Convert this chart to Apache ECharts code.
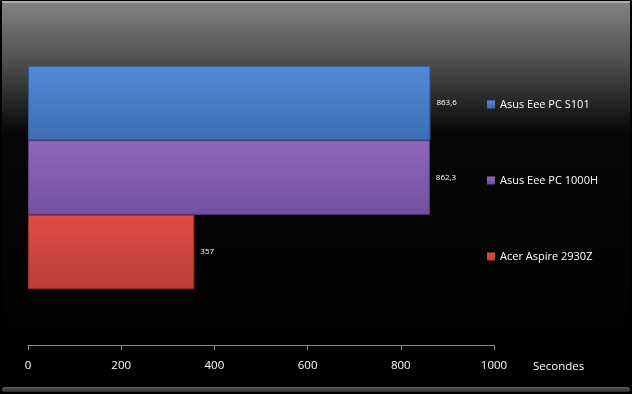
<!DOCTYPE html>
<html>
<head>
<meta charset="utf-8">
<script src="https://cdn.jsdelivr.net/npm/echarts@6/dist/echarts.min.js"></script>
<style>html,body{margin:0;padding:0;background:#000;}#c{width:632px;height:394px;}</style>
</head>
<body>
<div id="c"></div>
<script>
var categories = [''];
var seriesNames = ['Asus Eee PC S101', 'Asus Eee PC 1000H', 'Acer Aspire 2930Z'];
var seriesValues = [863.6, 862.3, 357];
var tickLabels = [0, 200, 400, 600, 800, 1000];
var axisName = 'Secondes';

var colors = [
  ['#5289d8', '#3c6db3', '#2f5a96'],
  ['#8f66bf', '#71519e', '#5c4083'],
  ['#e04c44', '#b83e38', '#97312c']
];

var FONT = 'Open Sans';
var chart = echarts.init(document.getElementById('c'));
var series = [];
for (var i = 0; i < seriesNames.length; i++) {
  series.push({
    name: seriesNames[i],
    type: 'bar',
    barGap: 0,
    barCategoryGap: '33.3%',
    data: [seriesValues[i]],
    itemStyle: {
      color: new echarts.graphic.LinearGradient(0, 0, 0, 1, [
        {offset: 0, color: colors[i][0]},
        {offset: 1, color: colors[i][1]}
      ]),
      borderColor: colors[i][2],
      borderWidth: 1
    },
    label: {
      show: true,
      position: 'right',
      distance: 6,
      color: '#fff',
      fontSize: 8,
      fontFamily: FONT,
      formatter: function (p) { return String(p.value).replace('.', ','); }
    },
    emphasis: {disabled: true}
  });
}

chart.setOption({
  animation: false,
  graphic: [
    {
      type: 'rect', z: -10, silent: true,
      shape: {x: 0, y: 0, width: 632, height: 394},
      style: {fill: '#000'}
    },
    {
      type: 'rect', z: -9, silent: true,
      shape: {x: 2, y: 2, width: 628, height: 388, r: 3},
      style: {
        fill: new echarts.graphic.LinearGradient(0, 0, 0, 1, [
          {offset: 0, color: '#828282'},
          {offset: 0.15, color: '#505050'},
          {offset: 0.34, color: '#060606'},
          {offset: 1, color: '#000'}
        ])
      }
    },
    {
      type: 'rect', z: -8, silent: true,
      shape: {x: 2, y: 1, width: 628, height: 2},
      style: {fill: '#a8a8a8'}
    },
    {
      type: 'rect', z: -8, silent: true,
      shape: {x: 2, y: 387, width: 628, height: 5, r: 3},
      style: {
        fill: new echarts.graphic.LinearGradient(0, 0, 0, 1, [
          {offset: 0, color: '#5a5a5a'},
          {offset: 1, color: '#2a2a2a'}
        ])
      }
    }
  ],
  grid: {left: 28, right: 138, top: 10, bottom: 49, containLabel: false},
  legend: {
    data: seriesNames,
    orient: 'vertical',
    left: 487,
    top: 99,
    padding: 0,
    itemWidth: 8,
    itemHeight: 8,
    itemGap: 65,
    icon: 'rect',
    itemStyle: {borderWidth: 0},
    textStyle: {color: '#fff', fontSize: 11, fontFamily: FONT},
    selectedMode: false
  },
  xAxis: {
    type: 'value',
    min: 0,
    max: 1000,
    interval: 200,
    splitLine: {show: false},
    axisLine: {show: true, lineStyle: {color: '#8c8c8c'}},
    axisTick: {show: true, length: 5, lineStyle: {color: '#8c8c8c'}},
    axisLabel: {
      color: '#fff', fontSize: 11.5, fontFamily: FONT, margin: 15,
      formatter: function (v) { return String(v); }
    },
    name: axisName,
    nameLocation: 'end',
    nameGap: 39,
    nameTextStyle: {color: '#fff', fontSize: 11.5, fontFamily: FONT, verticalAlign: 'top', lineHeight: 43}
  },
  yAxis: {
    type: 'category',
    data: categories,
    axisLine: {show: false},
    axisTick: {show: false},
    axisLabel: {show: false}
  },
  series: series
});
</script>
</body>
</html>
